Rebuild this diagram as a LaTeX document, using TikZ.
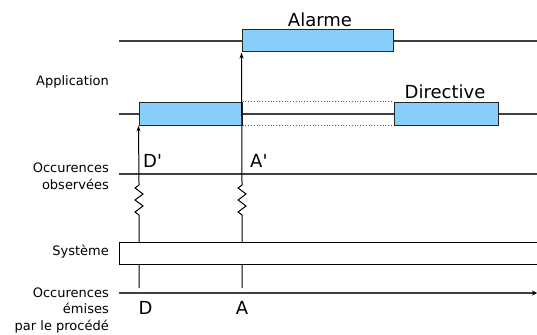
\documentclass[tikz,border=0pt]{standalone}
\usepackage{fontspec}
\setmainfont{DejaVu Sans}
\usepackage{xcolor}
\usetikzlibrary{positioning,calc,decorations.pathmorphing,arrows.meta}
\definecolor{boxblue}{RGB}{135,206,250}
\tikzset{
  axe/.style={line width=1.1pt, draw=black!75},
  evt/.style={draw=black!85, line width=1pt, fill=boxblue, inner sep=0pt},
  small/.style={font=\fontsize{13}{16.5}\selectfont, inner sep=0pt, align=right},
  big/.style={font=\fontsize{18}{20}\selectfont, inner sep=0pt},
  flow/.style={line width=1pt, -{Stealth[length=6pt,width=4pt]}},
  ressort/.style={decorate, decoration={zigzag, segment length=12pt, amplitude=4pt}},
}

\begin{document}
\begin{tikzpicture}[x=1pt,y=-1pt]
    \useasboundingbox (0,0) rectangle (537,334);

    % Application : alarme
    \begin{scope}
        \coordinate (l1a) at (119,41);
        \coordinate (l1b) at (537,41);
        \draw[axe] (l1a) -- (l1b);
        \node[evt, minimum width=151pt, minimum height=22pt] (alarme) at (317.5,41) {};
        \node[big, anchor=base] (talarme) at (320,27) {Alarme};
    \end{scope}

    % Application : directive
    \begin{scope}
        \coordinate (l2a) at (119,114);
        \coordinate (l2b) at (537,114);
        \draw[axe] (l2a) -- (l2b);
        \node[evt, minimum width=103pt, minimum height=23pt] (dbox) at (190.5,113.5) {};
        \node[evt, minimum width=104pt, minimum height=23pt] (directive) at (446,113.5) {};
        \draw[dotted, line width=0.8pt, black!60] (dbox.north east) -- (directive.north west);
        \draw[dotted, line width=0.8pt, black!60] (dbox.south east) -- (directive.south west);
        \node[big, anchor=base] (tdirective) at (445,99) {Directive};
        \node[small, anchor=base east] (appli) at (109,85) {Application};
    \end{scope}

    % Occurences observees
    \coordinate (l3a) at (119,174);
    \coordinate (l3b) at (537,174);
    \draw[axe] (l3a) -- (l3b);
    \node[small, anchor=base east] (obs) at (109,189) {Occurences\\observées};
    \node[big, anchor=base west] (dp) at (143,167) {D\textquotesingle};
    \node[big, anchor=base west] (ap) at (250,167) {A\textquotesingle};

    % Occurences emises
    \coordinate (l4a) at (119,293);
    \coordinate (l4b) at (537,293);
    \draw[axe, -{Stealth[length=5pt,width=5pt,color=black,fill=black]}] (l4a) -- (l4b);
    \node[small, anchor=base east] (emis) at (109,330) {Occurences\\émises\\par le procédé};
    \node[big, anchor=base] (d) at (145.5,314) {D};
    \node[big, anchor=base] (a) at (242,314) {A};

    % transmissions
    \coordinate (dbot) at (139,288);
    \coordinate (dz1) at (139,215);
    \coordinate (dz2) at (139,183);
    \coordinate (abot) at (242,288);
    \coordinate (az1) at (242,215);
    \coordinate (az2) at (242,183);
    \draw[flow] (dbot) -- (dz1) decorate[ressort]{-- (dz2)} -- (dbox.south west);
    \draw[flow] (abot) -- (az1) decorate[ressort]{-- (az2)} -- (alarme.south west);

    % Systeme
    \node[draw, line width=1pt, fill=white, inner sep=0pt, minimum width=430pt, minimum height=22pt] (sys) at (334,253) {};
    \node[small, anchor=base east] (tsys) at (109,255) {Système};
\end{tikzpicture}
\end{document}
